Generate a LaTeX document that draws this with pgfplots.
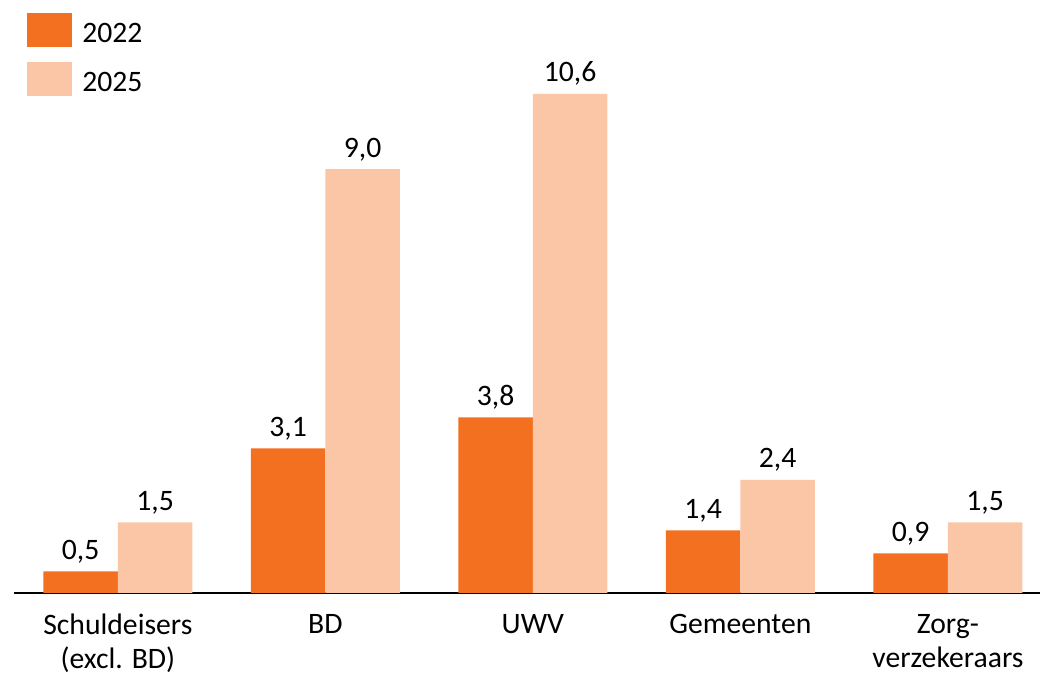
\documentclass[border=0pt]{standalone}
\usepackage{fontspec}
\setmainfont{Carlito}
\usepackage{pgfplots}
\pgfplotsset{compat=1.18}
\definecolor{dark}{HTML}{F37021}
\definecolor{light}{HTML}{FAC6A6}
\begin{document}
\begin{tikzpicture}
\begin{axis}[
  x=103.85pt, y=23.56pt,
  xmin=-0.5, xmax=4.444, ymin=0, ymax=12.595,
  clip=false,
  axis x line*=bottom, axis y line=none,
  x axis line style={line width=1pt, black, -},
  ybar=0pt, bar width=37.3pt,
  xtick=data, major tick length=0pt,
  xticklabels={{Schuldeisers\\(excl. BD)},BD,UWV,Gemeenten,{Zorg-\\verzekeraars}},
  xticklabel style={align=center, inner sep=0pt, anchor=north, yshift=-10.5pt, font=\fontsize{14.85}{17}\selectfont},
  font=\fontsize{14.85}{15}\selectfont,
  point meta=explicit symbolic,
  nodes near coords,
  every node near coord/.append style={anchor=base, inner sep=0pt, yshift=6pt, black},
  legend style={draw=none, fill=none, inner sep=0pt, at={(rel axis cs:0.0125,0.978)}, anchor=north west,
    row sep=7.5pt, nodes={inner sep=0pt, text depth=0pt}, column sep=0pt},
  legend cell align=left,
  legend image code/.code={\fill[#1] (0pt,-7.25pt) rectangle (22.5pt,9.75pt); \path (27.5pt,0pt);},
]
\addplot[fill=dark, draw=none] coordinates {(0,0.46)[0,5] (1,3.07)[3,1] (2,3.73)[3,8] (3,1.33)[1,4] (4,0.84)[0,9]};
\addplot[fill=light, draw=none] coordinates {(0,1.5)[1,5] (1,9.0)[9,0] (2,10.6)[10,6] (3,2.4)[2,4] (4,1.5)[1,5]};
\legend{2022,2025}
\path (axis cs:-0.568,-1.793) rectangle (axis cs:4.444,12.595);
\end{axis}
\end{tikzpicture}
\end{document}
